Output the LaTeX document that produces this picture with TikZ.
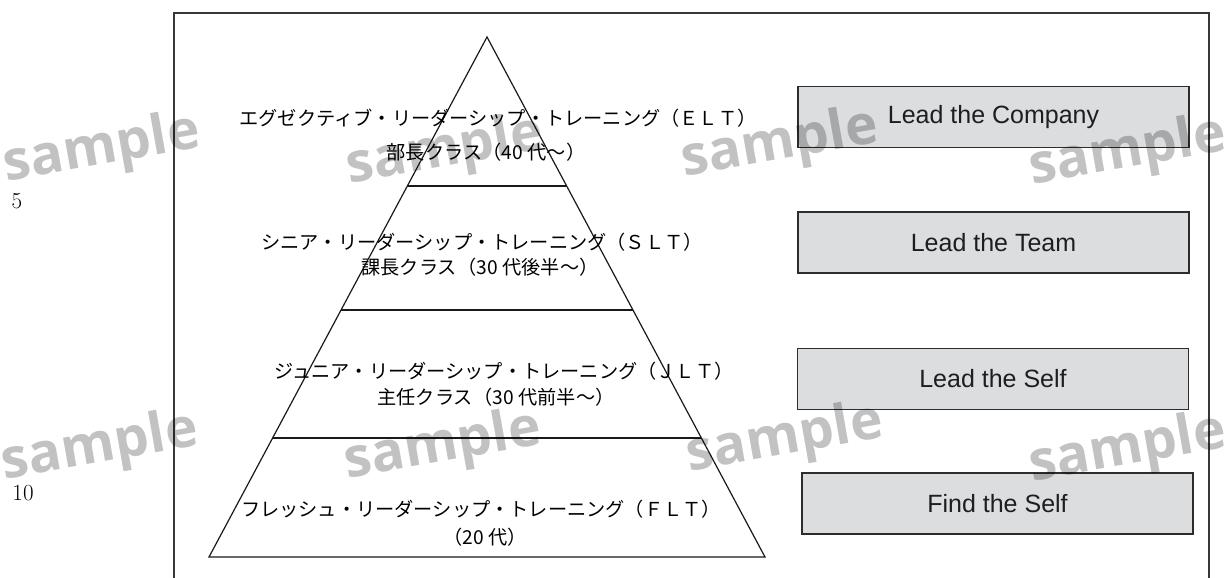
\documentclass[tikz,border=0pt]{standalone}
\usepackage{fontspec}
\usetikzlibrary{calc}
\newfontfamily\jpfont{Noto Sans CJK JP}
\newfontfamily\arialfont{Liberation Sans}
\newfontfamily\wmfont{Open Sans}
\definecolor{boxgray}{RGB}{220,221,223}
\definecolor{boxedge}{RGB}{45,45,45}
\definecolor{boxtext}{RGB}{30,30,30}
\definecolor{triline}{RGB}{25,25,25}
\definecolor{frameline}{RGB}{55,55,55}
\begin{document}
\begin{tikzpicture}[x=1pt,y=-1pt,
  jptext/.style={font=\jpfont\fontsize{19.2}{22}\selectfont, inner sep=0pt, text=black},
  levelbox/.style={draw=boxedge, fill=boxgray, line width=1.4pt, minimum width=391pt,
    minimum height=61pt, inner sep=0pt, font=\arialfont\fontsize{25}{30}\selectfont, text=boxtext},
  triedge/.style={line width=1.2pt, draw=triline},
  outerframe/.style={line width=1.6pt, draw=frameline},
  wm/.style={font=\wmfont\bfseries\fontsize{55}{60}\selectfont, text=black, text opacity=0.24,
    rotate=10, inner sep=0pt},
  lineno/.style={font=\fontsize{23}{26}\selectfont, inner sep=0pt}]
\useasboundingbox (0,0) rectangle (1224,578);

% outer frame (open at the bottom)
\coordinate (fbl) at (174,584);
\coordinate (ftl) at (174,13);
\coordinate (ftr) at (1209,13);
\coordinate (fbr) at (1209,584);
\draw[outerframe] (fbl) -- (ftl) -- (ftr) -- (fbr);

% line numbers
\node[lineno] (n5) at (17,201) {5};
\node[lineno] (n10) at (23,493) {10};

% pyramid
\coordinate (apex) at (487,37);
\coordinate (bl) at (209,557);
\coordinate (br) at (765,557);
\draw[triedge] (bl) -- (apex) -- (br) -- cycle;
\coordinate (d1l) at ($(apex)!0.2865!(bl)$);
\coordinate (d1r) at ($(apex)!0.2865!(br)$);
\coordinate (d2l) at ($(apex)!0.525!(bl)$);
\coordinate (d2r) at ($(apex)!0.525!(br)$);
\coordinate (d3l) at ($(apex)!0.7712!(bl)$);
\coordinate (d3r) at ($(apex)!0.7712!(br)$);
\draw[triedge] (d1l) -- (d1r);
\draw[triedge] (d2l) -- (d2r);
\draw[triedge] (d3l) -- (d3r);

% pyramid labels
\node[jptext] (elt1) at (498,118) {エグゼクティブ・リーダーシップ・トレーニング（ＥＬＴ）};
\node[jptext] (elt2) at (486,152) {部長クラス（40\hspace{0.25em}代〜）};
\node[jptext] (slt1) at (482,242) {シニア・リーダーシップ・トレーニング（ＳＬＴ）};
\node[jptext] (slt2) at (480,267) {課長クラス（30\hspace{0.25em}代後半〜）};
\node[jptext] (jlt1) at (504,371) {ジュニア・リーダーシップ・トレーニング（ＪＬＴ）};
\node[jptext] (jlt2) at (496,397) {主任クラス（30\hspace{0.25em}代前半〜）};
\node[jptext] (flt1) at (481,509) {フレッシュ・リーダーシップ・トレーニング（ＦＬＴ）};
\node[jptext] (flt2) at (485,537) {（20\hspace{0.25em}代）};

% right boxes
\node[levelbox] (b1) at (993.5,117) {Lead the Company};
\node[levelbox] (b2) at (993.5,242.5) {Lead the Team};
\node[levelbox] (b3) at (993,379) {Lead the Self};
\node[levelbox] (b4) at (997.5,503.5) {Find the Self};

% watermarks
\node[wm] (w1) at (102,150) {sample};
\node[wm] (w2) at (445,152) {sample};
\node[wm] (w3) at (780,145) {sample};
\node[wm] (w4) at (1128,153) {sample};
\node[wm] (w5) at (100,448) {sample};
\node[wm] (w6) at (443,447) {sample};
\node[wm] (w7) at (785,440) {sample};
\node[wm] (w8) at (1128,450) {sample};
\end{tikzpicture}
\end{document}
